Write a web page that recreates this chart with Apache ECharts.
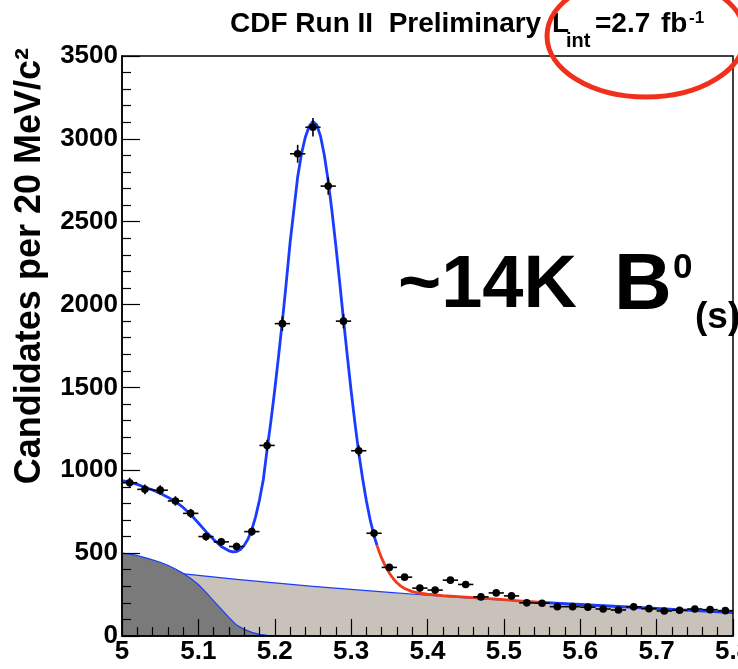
<!DOCTYPE html>
<html>
<head>
<meta charset="utf-8">
<script src="https://cdn.jsdelivr.net/npm/echarts@6/dist/echarts.min.js"></script>
<style>
  html, body { margin: 0; padding: 0; background: #fff; }
  #chart { width: 738px; height: 669px; }
</style>
</head>
<body>
<div id="chart"></div>
<script>
// Invariant-mass histogram, 20 MeV/c^2 bins (bin centres, GeV/c^2)
const massBins = [
  5.01, 5.03, 5.05, 5.07, 5.09, 5.11, 5.13, 5.15, 5.17, 5.19,
  5.21, 5.23, 5.25, 5.27, 5.29, 5.31, 5.33, 5.35, 5.37, 5.39,
  5.41, 5.43, 5.45, 5.47, 5.49, 5.51, 5.53, 5.55, 5.57, 5.59,
  5.61, 5.63, 5.65, 5.67, 5.69, 5.71, 5.73, 5.75, 5.77, 5.79
];
const candidates = [
  925, 885, 880, 815, 740, 600, 568, 540, 630, 1150,
  1885, 2910, 3070, 2715, 1900, 1118, 620, 414, 355, 289,
  277, 337, 311, 236, 260, 242, 200, 198, 177, 177,
  174, 163, 157, 176, 165, 151, 155, 163, 159, 153
];
const BIN_WIDTH = 0.02;

// Total fit, blue part up to the signal region edge
const fitMassSignal = [
  5.00, 5.01, 5.02, 5.03, 5.04, 5.05, 5.06, 5.07, 5.08, 5.09,
  5.10, 5.11, 5.12, 5.13, 5.14, 5.145, 5.15, 5.155, 5.16, 5.165,
  5.17, 5.175, 5.18, 5.185, 5.19, 5.195, 5.20, 5.205, 5.21, 5.215,
  5.22, 5.225, 5.23, 5.235, 5.24, 5.245, 5.25, 5.255, 5.26, 5.265,
  5.27, 5.275, 5.28, 5.285, 5.29, 5.295, 5.30, 5.305, 5.31, 5.315,
  5.32, 5.325, 5.33, 5.334
];
const fitSignal = [
  938, 928, 915, 898, 881, 861, 838, 811, 776, 733,
  682, 630, 582, 540, 514, 508, 510, 522, 547, 585,
  642, 720, 820, 943, 1126, 1297, 1486, 1689, 1900, 2130,
  2370, 2570, 2770, 2910, 3010, 3075, 3105, 3085, 3015, 2900,
  2745, 2560, 2355, 2135, 1910, 1690, 1480, 1285, 1105, 950,
  815, 700, 605, 545
];
// Total fit, red part across the upper sideband
const fitMassSideband = [
  5.334, 5.337, 5.34, 5.345, 5.35, 5.355, 5.36, 5.365, 5.37, 5.38,
  5.39, 5.40, 5.42, 5.44, 5.46, 5.48, 5.50, 5.52, 5.55
];
const fitSideband = [
  545, 505, 470, 420, 380, 347, 321, 301, 287, 268,
  258, 252, 243, 237, 232, 226, 220, 212, 203
];
// Total fit, blue part at high mass
const fitMassHigh = [5.55, 5.60, 5.65, 5.70, 5.75, 5.80];
const fitHigh = [203, 190, 178, 166, 153, 141];

// Combinatorial background
const combMass = [
  5.00, 5.05, 5.10, 5.15, 5.20, 5.25, 5.30, 5.35, 5.40,
  5.45, 5.50, 5.55, 5.60, 5.65, 5.70, 5.75, 5.80
];
const combBkg = [
  417, 390, 366, 342, 320, 300, 281, 263, 246,
  230, 216, 202, 189, 177, 166, 154, 142
];

// Partially reconstructed (physics) background
const physMass = [
  5.00, 5.01, 5.02, 5.03, 5.04, 5.05, 5.06, 5.07, 5.08, 5.09,
  5.10, 5.11, 5.12, 5.13, 5.14, 5.15, 5.16, 5.17, 5.18, 5.19,
  5.20, 5.21, 5.22
];
const physBkg = [
  500, 494, 486, 473, 459, 445, 427, 404, 378, 347,
  311, 263, 212, 162, 112, 66, 40, 22, 10, 4,
  1, 0, 0
];

const xTickLabels = ['5', '5.1', '5.2', '5.3', '5.4', '5.5', '5.6', '5.7', '5.8'];
const yTickLabels = ['0', '500', '1000', '1500', '2000', '2500', '3000', '3500'];

const pairs = (xs, ys) => xs.map((x, i) => [x, ys[i]]);

const BLUE = '#1a3cff';
const RED = '#ef3b1c';
const LABEL_FONT = 'Liberation Sans, Arial, Helvetica, sans-serif';

const chart = echarts.init(document.getElementById('chart'), null, { renderer: 'canvas' });

const curve = (name, xs, ys, color, width, z, area) => ({
  name, type: 'line', z,
  data: pairs(xs, ys),
  showSymbol: false, smooth: false,
  lineStyle: { color, width, join: 'round' },
  areaStyle: area ? { color: area, opacity: 1 } : undefined
});

const option = {
  backgroundColor: '#ffffff',
  animation: false,
  grid: {
    left: 122, right: 5, top: 56, bottom: 33,
    outerBoundsMode: 'none',
    containLabel: false,
    show: true, z: 6,
    borderColor: '#000', borderWidth: 1.5,
    backgroundColor: 'transparent'
  },
  xAxis: {
    type: 'value', min: 5, max: 5.8, interval: 0.1, z: 6,
    axisLine: { show: true, onZero: false, lineStyle: { color: '#000', width: 1.5 } },
    axisTick: { show: true, inside: true, length: 17, lineStyle: { color: '#000', width: 1.2 } },
    minorTick: { show: true, splitNumber: 5, length: 9, lineStyle: { color: '#000', width: 1.2 } },
    splitLine: { show: false },
    axisLabel: {
      margin: 3, color: '#000', fontSize: 26, fontWeight: 'bold', fontFamily: LABEL_FONT,
      showMinLabel: true, showMaxLabel: true,
      formatter: (v, i) => xTickLabels[i]
    }
  },
  yAxis: {
    type: 'value', min: 0, max: 3500, interval: 500, z: 6,
    axisLine: { show: true, onZero: false, lineStyle: { color: '#000', width: 1.5 } },
    axisTick: { show: true, inside: true, length: 18, lineStyle: { color: '#000', width: 1.2 } },
    minorTick: { show: true, splitNumber: 5, length: 9, lineStyle: { color: '#000', width: 1.2 } },
    splitLine: { show: false },
    axisLabel: {
      margin: 4, color: '#000', fontSize: 26, fontWeight: 'bold', fontFamily: LABEL_FONT,
      formatter: (v, i) => yTickLabels[i]
    }
  },
  series: [
    curve('combinatorial', combMass, combBkg, BLUE, 1.2, 1, '#c9c2bb'),
    curve('physics', physMass, physBkg, BLUE, 1.2, 2, '#7a7a7a'),
    curve('fit', fitMassSignal, fitSignal, BLUE, 2.8, 3),
    curve('fit sideband', fitMassSideband, fitSideband, RED, 2.8, 3),
    curve('fit high', fitMassHigh, fitHigh, BLUE, 2.8, 3),
    {
      name: 'data', type: 'custom', z: 4,
      data: pairs(massBins, candidates),
      renderItem: (params, api) => {
        const x = api.value(0);
        const n = api.value(1);
        const err = Math.sqrt(n); // Poisson uncertainty on the bin count
        const c = api.coord([x, n]);
        const l = api.coord([x - BIN_WIDTH / 2, n]);
        const r = api.coord([x + BIN_WIDTH / 2, n]);
        const t = api.coord([x, n + err]);
        const b = api.coord([x, n - err]);
        const st = { stroke: '#000', lineWidth: 1.6 };
        return {
          type: 'group',
          children: [
            { type: 'line', shape: { x1: l[0], y1: c[1], x2: r[0], y2: c[1] }, style: st },
            { type: 'line', shape: { x1: c[0], y1: t[1], x2: c[0], y2: b[1] }, style: st },
            { type: 'circle', shape: { cx: c[0], cy: c[1], r: 3.8 }, style: { fill: '#000' } }
          ]
        };
      }
    }
  ],
  graphic: [
    // Axis title, reading upward, right-aligned to the top of the frame
    {
      type: 'text', x: 30, y: 48, rotation: Math.PI / 2, z: 10,
      style: {
        text: 'Candidates per 20 MeV/c²',
        font: 'bold 36px ' + LABEL_FONT,
        fill: '#000', textAlign: 'right', textVerticalAlign: 'middle'
      }
    },
    // Header
    {
      type: 'text', x: 230, y: 24, z: 10,
      style: { text: 'CDF Run II  Preliminary', font: 'bold 28px ' + LABEL_FONT, fill: '#000', textAlign: 'left', textVerticalAlign: 'middle' }
    },
    {
      type: 'text', x: 552, y: 24, z: 10,
      style: { text: 'L', font: 'bold 28px ' + LABEL_FONT, fill: '#000', textAlign: 'left', textVerticalAlign: 'middle' }
    },
    {
      type: 'text', x: 566, y: 41, z: 10,
      style: { text: 'int', font: 'bold 20px ' + LABEL_FONT, fill: '#000', textAlign: 'left', textVerticalAlign: 'middle' }
    },
    {
      type: 'text', x: 595, y: 24, z: 10,
      style: { text: '=2.7', font: 'bold 28px ' + LABEL_FONT, fill: '#000', textAlign: 'left', textVerticalAlign: 'middle' }
    },
    {
      type: 'text', x: 661, y: 24, z: 10,
      style: { text: 'fb', font: 'bold 28px ' + LABEL_FONT, fill: '#000', textAlign: 'left', textVerticalAlign: 'middle' }
    },
    {
      type: 'text', x: 689, y: 18, z: 10,
      style: { text: '-1', font: 'bold 17px ' + LABEL_FONT, fill: '#000', textAlign: 'left', textVerticalAlign: 'middle' }
    },
    // Red highlight around the luminosity
    {
      type: 'ellipse', z: 11,
      shape: { cx: 646, cy: 36, rx: 99, ry: 61 },
      style: { fill: 'none', stroke: '#f0301a', lineWidth: 5 }
    },
    // Signal yield annotation
    {
      type: 'text', x: 398, y: 287, z: 10,
      style: { text: '~14K', font: 'bold 74px ' + LABEL_FONT, fill: '#000', textAlign: 'left', textVerticalAlign: 'middle' }
    },
    {
      type: 'text', x: 614, y: 287, z: 10,
      style: { text: 'B', font: 'bold 80px ' + LABEL_FONT, fill: '#000', textAlign: 'left', textVerticalAlign: 'middle' }
    },
    {
      type: 'text', x: 673, y: 268, z: 10,
      style: { text: '0', font: 'bold 35px ' + LABEL_FONT, fill: '#000', textAlign: 'left', textVerticalAlign: 'middle' }
    },
    {
      type: 'text', x: 695, y: 318, z: 10,
      style: { text: '(s)', font: 'bold 37px ' + LABEL_FONT, fill: '#000', textAlign: 'left', textVerticalAlign: 'middle' }
    }
  ]
};

chart.setOption(option);
</script>
</body>
</html>
